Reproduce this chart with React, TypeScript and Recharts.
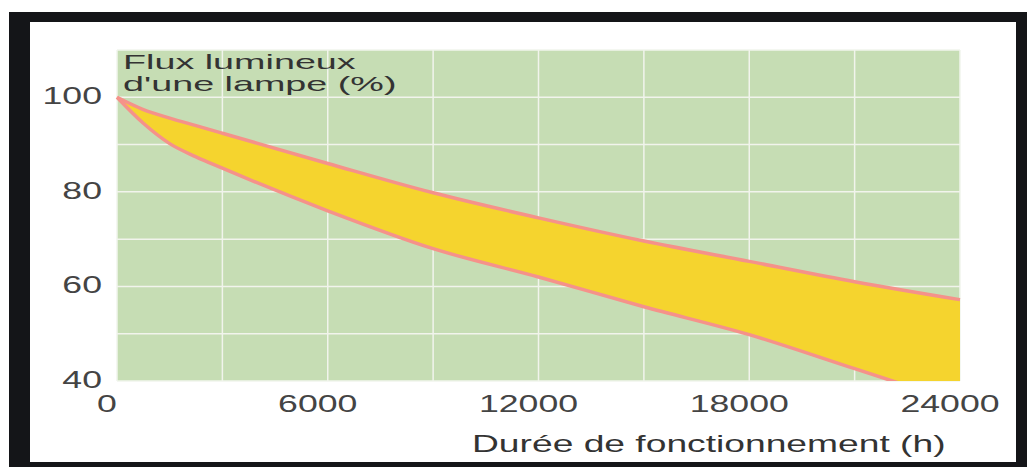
import React from 'react';
import { ComposedChart, Area, Line, XAxis, YAxis, CartesianGrid } from 'recharts';

// heures de fonctionnement (h)
const hours = [0, 750, 1500, 2250, 3000, 6000, 9000, 12000, 15000, 18000, 21000, 24000];
// flux lumineux, bord haut et bord bas de la bande (%)
const upperFlux = [100, 97.4, 95.6, 94, 92.4, 86, 79.8, 74.5, 69.6, 65.3, 61, 57.2];
const lowerFlux = [100, 94.5, 90.2, 87.4, 85, 76, 68, 62, 55.7, 49.8, 42.6, 35.4];

const xTicks = [0, 3000, 6000, 9000, 12000, 15000, 18000, 21000, 24000];
const xLabels = [0, 6000, 12000, 18000, 24000];
const yTicks = [40, 50, 60, 70, 80, 90, 100, 110];
const yLabels = [40, 60, 80, 100];

const data = hours.map((h, i) => ({
    h,
    high: upperFlux[i],
    low: lowerFlux[i],
    band: [lowerFlux[i], upperFlux[i]],
}));

const FONT = '"Liberation Sans", Arial, sans-serif';
const STRETCH = 1.55;

const XTick = (props: any) => {
    const { x, y, payload } = props;
    if (!xLabels.includes(payload.value)) return null;
    return (
        <g transform={`translate(${x - 10},${y + 31}) scale(${STRETCH},1)`}>
            <text textAnchor="middle" fontFamily={FONT} fontSize={23} fill="#444">
                {payload.value}
            </text>
        </g>
    );
};

const YTick = (props: any) => {
    const { x, y, payload } = props;
    if (!yLabels.includes(payload.value)) return null;
    return (
        <g transform={`translate(${x - 15},${y + 7}) scale(${STRETCH},1)`}>
            <text textAnchor="end" fontFamily={FONT} fontSize={23} fill="#444">
                {payload.value}
            </text>
        </g>
    );
};

const textStyle: React.CSSProperties = {
    position: 'absolute',
    fontFamily: FONT,
    color: '#333',
    whiteSpace: 'nowrap',
    transformOrigin: 'left top',
};

// titre sur deux lignes serrées, comme l'original
const titleStyle: React.CSSProperties = {
    ...textStyle,
    left: 123,
    fontSize: 23,
    lineHeight: '26px',
    transform: 'scale(1.64, 0.86)',
};

export default function App() {
    return (
        <div style={{ position: 'absolute', left: 0, top: 0, width: 1027, height: 467, background: '#fff' }}>
            <div style={{ position: 'absolute', left: 9, top: 12, width: 1018, height: 455, background: '#141518' }} />
            <div style={{ position: 'absolute', left: 30, top: 22, width: 986, height: 440, background: '#fff' }} />
            <div style={{ position: 'absolute', left: 0, top: 0 }}>
                <ComposedChart
                    width={1027}
                    height={467}
                    data={data}
                    margin={{ top: 50, right: 67, bottom: 56, left: 37 }}
                >
                    <CartesianGrid fill="#c6ddb4" fillOpacity={1} stroke="#f1f4ec" strokeWidth={1.5} />
                    <XAxis
                        dataKey="h"
                        type="number"
                        domain={[0, 24000]}
                        ticks={xTicks}
                        interval={0}
                        height={30}
                        tickSize={0}
                        tickMargin={0}
                        axisLine={false}
                        tickLine={false}
                        tick={<XTick />}
                    />
                    <YAxis
                        type="number"
                        domain={[40, 110]}
                        ticks={yTicks}
                        interval={0}
                        allowDataOverflow
                        width={80}
                        tickSize={0}
                        tickMargin={0}
                        axisLine={false}
                        tickLine={false}
                        tick={<YTick />}
                    />
                    <Area
                        type="monotone"
                        dataKey="band"
                        fill="#f5d42e"
                        fillOpacity={1}
                        stroke="none"
                        isAnimationActive={false}
                    />
                    <Line type="monotone" dataKey="high" stroke="#f5928a" strokeWidth={3.5} dot={false} isAnimationActive={false} />
                    <Line type="monotone" dataKey="low" stroke="#f5928a" strokeWidth={3.5} dot={false} isAnimationActive={false} />
                </ComposedChart>
            </div>
            <div style={{ ...titleStyle, top: 50.5 }}>Flux lumineux</div>
            <div style={{ ...titleStyle, top: 73 }}>d'une lampe (%)</div>
            <div style={{ ...textStyle, left: 472, top: 432, fontSize: 24, lineHeight: '24px', transform: `scaleX(${STRETCH})` }}>
                Durée de fonctionnement (h)
            </div>
        </div>
    );
}
